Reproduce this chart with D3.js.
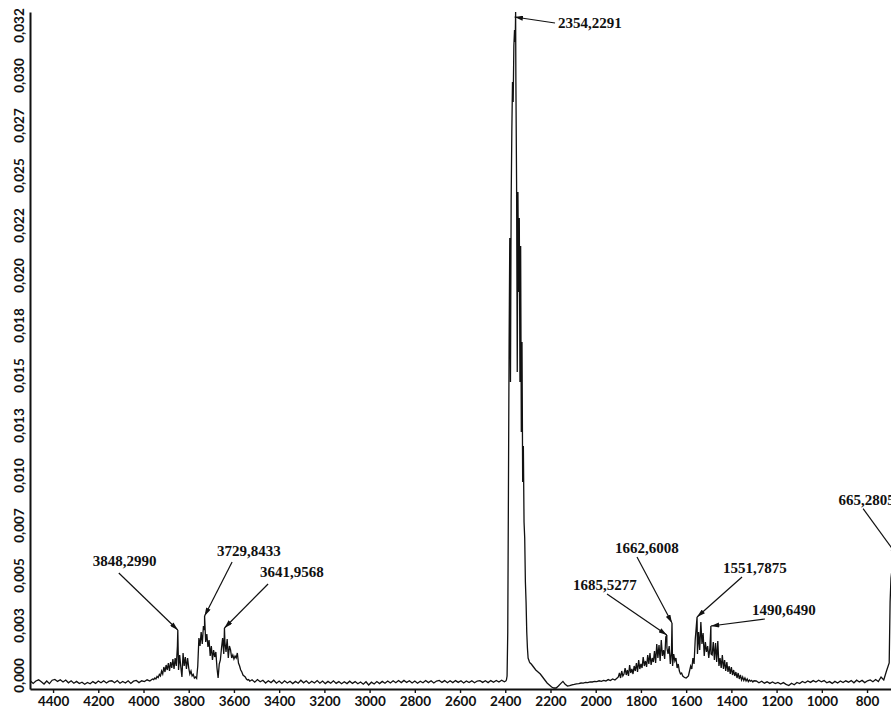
<!DOCTYPE html>
<html>
<head>
<meta charset="utf-8">
<script src="https://cdn.jsdelivr.net/npm/d3@7"></script>
<style>
  html, body { margin: 0; padding: 0; background: #fff; overflow: hidden; }
  svg { display: block; }
</style>
</head>
<body>
<svg id="chart" width="891" height="711"></svg>
<script>
// FTIR absorbance spectrum. Absorbance values are stored in units of 1e-4,
// sampled on a regular wavenumber grid (cm-1) per spectral segment.

// 4500 -> 3960 cm-1, every 12 cm-1
const baselineHigh = [-3.0,-4.2,-3.0,-2.4,-3.4,-4.5,-3.0,-4.3,-2.6,-2.2,
  -3.2,-2.4,-3.5,-2.5,-3.9,-2.9,-4.1,-3.2,-4.3,-3.6,
  -4.6,-3.7,-4.4,-3.3,-4.2,-3.0,-3.9,-2.9,-4.0,-3.1,
  -2.9,-3.9,-2.8,-4.1,-3.2,-4.0,-2.9,-4.2,-3.1,-2.7,
  -3.8,-2.9,-3.3,-2.4,-3.0,-2.0];

// 3955 -> 3530 cm-1, every 5 cm-1 (O-H stretching region)
const ohBand = [-2.3,-1.5,-2.0,-0.7,-1.3,0.3,-0.5,2.0,0.5,4.0,
  1.5,5.0,2.5,6.0,2.0,6.5,3.5,8.0,3.0,8.5,
  4.5,14.5,2.5,10.0,4.0,-1.0,11.0,4.5,9.0,3.0,
  8.5,3.5,0.5,2.0,-0.5,0.3,-1.5,-1.0,-1.7,4.5,
  18.5,14.5,21.5,15.5,24.5,22.5,16.5,20.5,14.0,17.5,
  9.5,14.5,7.5,12.5,9.0,11.5,3.5,-1.5,5.5,7.5,
  13.5,18.5,10.5,16.5,11.5,18.0,8.5,14.5,12.5,8.5,
  10.0,8.0,9.5,8.5,11.0,6.0,4.5,2.5,1.5,0.0,
  -0.5,-1.0,-2.0,-2.5,-2.3,-3.1];

// 3520 -> 2404 cm-1, every 12 cm-1
const baselineMid = [-2.4,-3.6,-2.3,-3.4,-2.6,-4.0,-2.9,-3.8,-2.6,-4.1,
  -3.0,-4.2,-2.9,-4.0,-3.1,-4.3,-3.2,-4.1,-2.6,-3.9,
  -2.9,-4.2,-3.1,-4.0,-2.8,-4.1,-3.0,-4.3,-3.2,-4.1,
  -2.9,-4.2,-3.3,-4.4,-3.4,-4.3,-3.1,-4.2,-3.3,-4.4,
  -3.5,-4.6,-3.4,-5.0,-3.6,-4.5,-3.3,-4.3,-3.2,-4.1,
  -3.0,-4.0,-2.9,-3.9,-2.8,-3.8,-2.7,-3.7,-2.9,-4.0,
  -3.0,-4.1,-3.1,-3.9,-2.8,-3.8,-2.9,-4.0,-3.0,-2.7,
  -3.7,-2.8,-3.9,-2.9,-3.8,-2.8,-3.7,-2.9,-4.0,-3.0,
  -3.8,-2.9,-3.9,-3.0,-2.8,-3.7,-2.9,-3.8,-2.8,-3.6,
  -2.7,-3.5,-2.6,-3.4];

// 2398 -> 2290 cm-1, every 3 cm-1 (CO2 asymmetric stretch)
const co2Band = [-3.0,-2.5,-0.5,21.5,91.5,166.5,218.5,146.5,236.5,271.5,
  296.5,286.5,314.5,322.5,316.5,296.5,246.5,151.5,241.5,191.5,
  228.5,146.5,214.5,121.5,166.5,96.5,114.5,76.5,68.5,46.5,
  36.5,21.5,13.5,8.5,7.5,6.5,6.0];

// 2285 -> 1905 cm-1, every 10 cm-1
const afterCo2 = [5.5,4.0,2.5,1.5,0.5,-1.0,-2.5,-4.0,-5.0,-6.0,
  -6.5,-6.5,-5.5,-4.3,-3.2,-4.7,-5.5,-5.3,-4.9,-4.7,
  -4.4,-4.3,-4.0,-4.1,-3.7,-3.8,-3.4,-3.5,-3.2,-3.3,
  -2.9,-3.2,-2.7,-3.0,-2.3,-2.8,-2.0,-2.5,-1.5];

// 1900 -> 1300 cm-1, every 5 cm-1 (H-O-H bending region)
const waterBand = [-1.0,1.0,-1.5,2.0,-0.5,0.5,3.5,0.0,2.5,-0.5,
  5.0,1.0,3.0,0.5,4.5,2.0,6.0,1.5,7.5,3.0,
  5.5,3.5,9.0,4.5,7.0,4.0,10.0,5.5,11.0,5.0,
  8.5,6.5,12.0,6.0,15.5,8.5,15.0,7.0,17.5,9.5,
  12.5,8.0,19.0,13.5,10.5,14.5,5.5,11.5,4.5,10.5,
  7.0,8.5,3.5,5.5,2.0,0.5,1.0,-0.5,-1.0,-1.3,
  -1.5,-1.0,-0.5,2.0,4.5,3.0,8.5,5.5,17.5,24.5,
  10.5,21.5,12.5,26.5,15.5,21.0,9.5,16.5,11.5,14.5,
  8.5,13.5,10.5,10.0,16.5,7.5,16.0,6.5,17.0,4.5,
  8.5,3.5,10.0,3.0,7.5,2.0,6.5,1.5,4.5,0.5,
  4.0,0.0,2.5,-0.5,1.5,-1.5,1.0,-2.0,0.0,-2.5,
  -1.0,-2.7,-1.5,-3.0,-2.0,-3.3,-2.5,-3.1,-2.7,-3.5,
  -2.9];

// 1290 -> 702 cm-1, every 12 cm-1
const baselineLow = [-3.0,-3.9,-3.1,-4.1,-3.4,-4.2,-3.5,-4.3,-3.7,-4.5,
  -3.8,-4.7,-5.3,-4.1,-4.9,-3.7,-4.3,-3.2,-3.9,-3.0,
  -3.7,-2.8,-3.5,-2.6,-3.4,-2.8,-3.9,-3.3,-4.2,-3.2,
  -4.0,-3.0,-3.8,-2.9,-3.6,-2.8,-3.9,-2.6,-3.5,-2.7,
  -3.8,-2.9,-2.5,-3.4,-2.3,-3.3,-1.0,-2.5,2.0,6.0];

// 698 -> 638 cm-1, every 4 cm-1 (CO2 bending)
const bendBand = [36.5,48.5,52.5,54.5,55.5,56.5,57.5,58.5,56.5,41.5,
  21.5,6.5,0.5,-1.5,-2.5,-3.0];

// Picked peaks: exact position (cm-1) and absorbance (1e-4)
const peakWavenumbers = [3848.2990, 3729.8433, 3641.9568, 2354.2291, 1685.5277, 1662.6008, 1551.7875, 1490.6490, 665.2805];
const peakAbsorbance  = [22.5, 29.5, 23.5, 331.5, 20.0, 26.0, 29.0, 24.5, 59.5];

// Axis ticks
const xTickValues = [4400, 4200, 4000, 3800, 3600, 3400, 3200, 3000, 2800, 2600, 2400, 2200, 2000, 1800, 1600, 1400, 1200, 1000, 800];
const xTickLabels = ["4400","4200","4000","3800","3600","3400","3200","3000","2800","2600","2400","2200","2000","1800","1600","1400","1200","1000","800"];
const yTickValues = [0, 0.0025, 0.005, 0.0075, 0.01, 0.0125, 0.015, 0.0175, 0.02, 0.0225, 0.025, 0.0275, 0.03, 0.0325];
const yTickLabels = ["0,000","0,003","0,005","0,007","0,010","0,013","0,015","0,018","0,020","0,022","0,025","0,027","0,030","0,032"];

// Segment grid definitions (first wavenumber, spacing)
const segments = [
  { start: 4500, step: 12, values: baselineHigh },
  { start: 3955, step: 5,  values: ohBand },
  { start: 3520, step: 12, values: baselineMid },
  { start: 2398, step: 3,  values: co2Band },
  { start: 2285, step: 10, values: afterCo2 },
  { start: 1900, step: 5,  values: waterBand },
  { start: 1290, step: 12, values: baselineLow },
  { start: 698,  step: 4,  values: bendBand }
];

// Label placement for each picked peak (pixel offsets: arrow tip from peak,
// arrow tail and label anchor from the tip)
const annotationLayout = {
  "3848,2990": { tip: [0, 0],  tail: [-59, -57],   text: [-85, -64] },
  "3729,8433": { tip: [0, 0],  tail: [27.5, -54],  text: [12.5, -60] },
  "3641,9568": { tip: [0, 0],  tail: [43.6, -44],  text: [35.6, -51] },
  "2354,2291": { tip: [-1, 5], tail: [40.4, 6],    text: [43.4, 11] },
  "1685,5277": { tip: [0, 0],  tail: [-59.8, -41], text: [-93.8, -45] },
  "1662,6008": { tip: [0, 0],  tail: [-35, -66],   text: [-57, -70] },
  "1551,7875": { tip: [0, 0],  tail: [45, -40],    text: [26, -44] },
  "1490,6490": { tip: [0, 0],  tail: [54, -7],     text: [41, -11] },
  "665,2805":  { tip: [0, 0],  tail: [-34.4, -47.4], text: [-59, -51] }
};

const UNIT = 1e-4;

const spectrum = [];
segments.forEach(seg => {
  seg.values.forEach((v, i) => spectrum.push({ wn: seg.start - i * seg.step, a: v * UNIT }));
});
const peaks = peakWavenumbers.map((wn, i) => ({
  wn, a: peakAbsorbance[i] * UNIT,
  label: wn.toFixed(4).replace(".", ",")
}));
peaks.forEach(p => spectrum.push({ wn: p.wn, a: p.a }));
spectrum.sort((p, q) => q.wn - p.wn);

const svg = d3.select("#chart");
svg.append("rect").attr("width", 891).attr("height", 711).attr("fill", "#fff");

const x = d3.scaleLinear().domain([4502, 694]).range([30, 891]);
const y = d3.scaleLinear().domain([-0.0007, 0.03315]).range([689, 12]);

const tickFont = "Lato, 'Liberation Sans', sans-serif";

// X axis
const gx = svg.append("g")
  .attr("transform", "translate(0,689)")
  .call(d3.axisBottom(x)
    .tickValues(xTickValues)
    .tickFormat((d, i) => xTickLabels[i])
    .tickSize(4)
    .tickSizeOuter(0)
    .tickPadding(3));
gx.select(".domain").attr("stroke", "#111").attr("stroke-width", 2);
gx.selectAll(".tick line").attr("stroke", "#111").attr("stroke-width", 1.4);
gx.selectAll(".tick text")
  .attr("fill", "#111")
  .style("font-family", tickFont)
  .style("font-weight", 700)
  .style("font-size", "13.5px");

// Y axis with rotated labels
const gy = svg.append("g")
  .attr("transform", "translate(30,0)")
  .call(d3.axisLeft(y)
    .tickValues(yTickValues)
    .tickFormat((d, i) => yTickLabels[i])
    .tickSize(0)
    .tickSizeOuter(0));
gy.select(".domain").attr("stroke", "#111").attr("stroke-width", 2);
gy.selectAll(".tick text")
  .attr("transform", "rotate(-90)")
  .attr("x", 0)
  .attr("y", -6)
  .attr("dy", 0)
  .attr("text-anchor", "middle")
  .attr("fill", "#111")
  .style("font-family", tickFont)
  .style("font-weight", 700)
  .style("font-size", "13.5px");

// Spectrum trace
const line = d3.line().x(d => x(d.wn)).y(d => y(d.a));
svg.append("path")
  .datum(spectrum)
  .attr("fill", "none")
  .attr("stroke", "#111")
  .attr("stroke-width", 1.3)
  .attr("stroke-linejoin", "miter")
  .attr("d", line);

// Arrowhead
svg.append("defs").append("marker")
  .attr("id", "arrowhead")
  .attr("viewBox", "0 0 10 6")
  .attr("refX", 10).attr("refY", 3)
  .attr("markerWidth", 9).attr("markerHeight", 5)
  .attr("markerUnits", "userSpaceOnUse")
  .attr("orient", "auto")
  .append("path").attr("d", "M0,0L10,3L0,6Z").attr("fill", "#111");

// Peak annotations
const ann = svg.append("g");
peaks.forEach(p => {
  const L = annotationLayout[p.label];
  const tx = x(p.wn) + L.tip[0], ty = y(p.a) + L.tip[1];
  ann.append("line")
    .attr("x1", tx + L.tail[0]).attr("y1", ty + L.tail[1])
    .attr("x2", tx).attr("y2", ty)
    .attr("stroke", "#111").attr("stroke-width", 1.2)
    .attr("marker-end", "url(#arrowhead)");
  ann.append("text")
    .attr("x", tx + L.text[0]).attr("y", ty + L.text[1])
    .attr("fill", "#111")
    .style("font-family", "'Liberation Serif', 'Times New Roman', serif")
    .style("font-weight", 700)
    .style("font-size", "15px")
    .text(p.label);
});
</script>
</body>
</html>
